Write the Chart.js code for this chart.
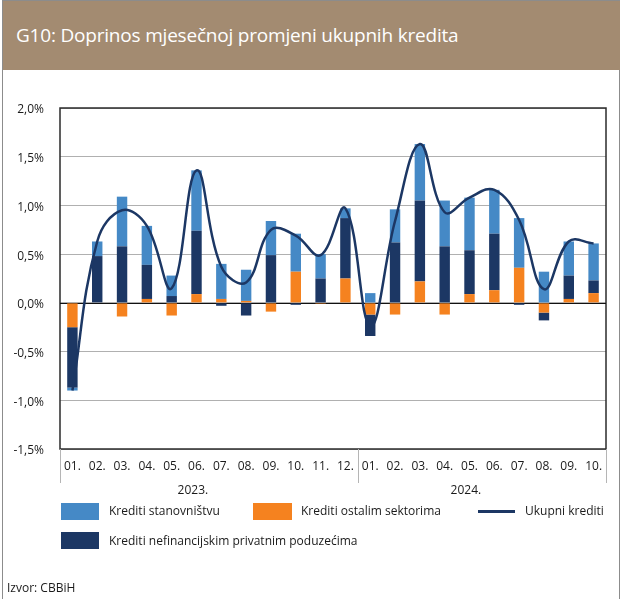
<!DOCTYPE html>
<html><head><meta charset="utf-8">
<script src="https://cdn.jsdelivr.net/npm/chart.js@4.4.0/dist/chart.umd.min.js"></script>
<style>
html,body{margin:0;padding:0;background:#fff;}
body{width:624px;height:599px;position:relative;overflow:hidden;font-family:"Open Sans",sans-serif;color:#1a1a1a;}
#frame{position:absolute;left:2px;top:0;width:618px;height:610px;border:1px solid #8c8c8c;box-sizing:border-box;}
#title{position:absolute;left:3px;top:1px;width:617px;height:69px;background:#a38b71;color:#fff;font-size:19px;line-height:69px;padding-left:13px;box-sizing:border-box;letter-spacing:-0.2px;}
#c{position:absolute;left:0;top:0;}
.lg{position:absolute;font-size:12px;line-height:16px;white-space:nowrap;}
.bx{position:absolute;}
</style></head>
<body>
<div id="frame"></div>
<div id="title">G10: Doprinos mjesečnoj promjeni ukupnih kredita</div>
<canvas id="c" width="624" height="599"></canvas>
<div class="bx" style="left:61px;top:503px;width:38px;height:17px;background:#4589c6"></div>
<div class="lg" style="left:109px;top:503px">Krediti stanovništvu</div>
<div class="bx" style="left:253px;top:503px;width:39px;height:17px;background:#f5821f"></div>
<div class="lg" style="left:301px;top:503px">Krediti ostalim sektorima</div>
<div class="bx" style="left:478px;top:510px;width:37px;height:3px;background:#1c3764"></div>
<div class="lg" style="left:525px;top:503px">Ukupni krediti</div>
<div class="bx" style="left:61px;top:532px;width:38px;height:17px;background:#1c3764"></div>
<div class="lg" style="left:109px;top:533px">Krediti nefinancijskim privatnim poduzećima</div>
<div class="lg" style="left:7px;top:580px">Izvor: CBBiH</div>
<script>
const months = ["01.","02.","03.","04.","05.","06.","07.","08.","09.","10.","11.","12.","01.","02.","03.","04.","05.","06.","07.","08.","09.","10."];
const years = ["2023.","2024."];
const yearCounts = [12,10];
const stanovnistvo = [-0.03,0.15,0.51,0.40,0.21,0.62,0.36,0.32,0.35,0.39,0.25,0.10, 0.10,0.34,0.58,0.47,0.54,0.45,0.51,0.32,0.35,0.38];
const nefinancijska = [-0.62,0.48,0.58,0.35,0.07,0.65,-0.03,-0.13,0.49,-0.02,0.25,0.62, -0.22,0.62,0.83,0.58,0.45,0.58,-0.02,-0.08,0.24,0.13];
const ostali = [-0.25,0.00,-0.14,0.04,-0.13,0.09,0.04,0.02,-0.09,0.32,-0.01,0.25, -0.12,-0.12,0.22,-0.12,0.09,0.13,0.36,-0.10,0.04,0.10];
const ukupni = [-0.90,0.63,0.95,0.79,0.15,1.36,0.37,0.21,0.75,0.69,0.49,0.97, -0.24,0.84,1.63,0.93,1.08,1.16,0.85,0.14,0.63,0.61];
const yTicks = [-1.5,-1.0,-0.5,0,0.5,1.0,1.5,2.0];

const FONT = "'Open Sans', sans-serif";
const decor = {
  id:'decor',
  beforeDatasetsDraw(chart){
    const {ctx, chartArea:a, scales:{x,y}} = chart;
    ctx.save();
    ctx.strokeStyle='#2b2b2b'; ctx.lineWidth=1.5;
    ctx.strokeRect(a.left, a.top, a.right-a.left, a.bottom-a.top);
    const z = Math.round(y.getPixelForValue(0))+0.5;
    ctx.strokeStyle='#111'; ctx.lineWidth=1;
    ctx.beginPath(); ctx.moveTo(a.left,z); ctx.lineTo(a.right,z); ctx.stroke();
    ctx.restore();
  },
  afterDraw(chart){
    const {ctx, chartArea:a, scales:{x}} = chart;
    ctx.save();
    ctx.strokeStyle='#b5b5b5'; ctx.lineWidth=1;
    let idx=0;
    const bounds=[a.left];
    yearCounts.forEach(n=>{ idx+=n; const px = idx<months.length ? (x.getPixelForValue(idx-1)+x.getPixelForValue(idx))/2 : a.right; bounds.push(px); });
    bounds.forEach(px=>{ const xx=Math.round(px)+0.5; ctx.beginPath(); ctx.moveTo(xx,a.bottom); ctx.lineTo(xx,a.bottom+34); ctx.stroke(); });
    ctx.fillStyle='#1a1a1a'; ctx.font="12px "+FONT; ctx.textAlign='center'; ctx.textBaseline='middle';
    years.forEach((t,i)=>{ const cx=(bounds[i]+bounds[i+1])/2 - 16; ctx.fillText(t,cx,a.bottom+42); });
    ctx.restore();
  }
};

new Chart(document.getElementById('c'),{
  data:{
    labels:months,
    datasets:[
      {type:'line',label:'Ukupni krediti',data:ukupni,borderColor:'#1c3764',borderWidth:2.5,pointRadius:0,tension:0.4,stack:'line',order:0,fill:false},
      {type:'bar',label:'Krediti ostalim sektorima',data:ostali,backgroundColor:'#f5821f',stack:'s',order:1},
      {type:'bar',label:'Krediti nefinancijskim privatnim poduzećima',data:nefinancijska,backgroundColor:'#1c3764',stack:'s',order:1},
      {type:'bar',label:'Krediti stanovništvu',data:stanovnistvo,backgroundColor:'#4589c6',stack:'s',order:1}
    ]
  },
  options:{
    responsive:false,animation:false,
    layout:{padding:{left:0,right:18,top:108,bottom:0}},
    plugins:{legend:{display:false},tooltip:{enabled:false}},
    datasets:{bar:{categoryPercentage:1,barPercentage:0.42}},
    scales:{
      x:{stacked:true,grid:{display:false,drawTicks:false},border:{display:false},
         ticks:{autoSkip:false,maxRotation:0,padding:10,color:'#1a1a1a',font:{family:FONT,size:12}},
         afterFit(s){s.height=150;}},
      y:{stacked:true,min:-1.5,max:2.0,
         afterBuildTicks(s){s.ticks=yTicks.map(v=>({value:v}));},
         grid:{color:'#b0b0b0',lineWidth:1,drawTicks:false},border:{display:false},
         ticks:{padding:16,labelOffset:2,color:'#1a1a1a',font:{family:FONT,size:12},callback:v=>v.toFixed(1).replace('.',',')+'%'},
         afterFit(s){s.width=60;}}
    }
  },
  plugins:[decor]
});
</script>
</body></html>
